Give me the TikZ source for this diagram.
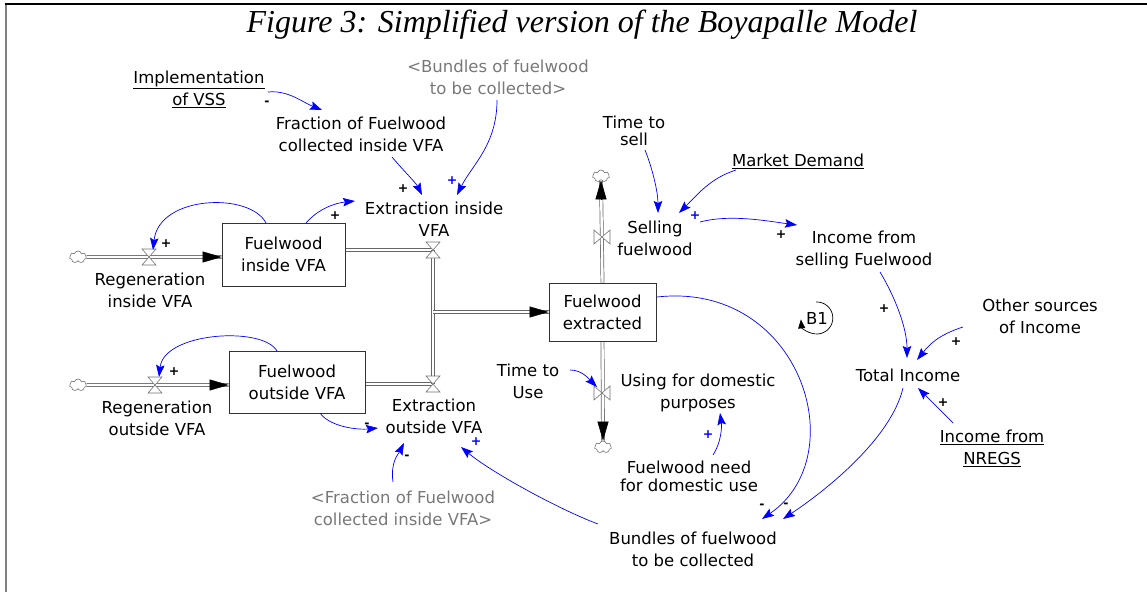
\documentclass[tikz,border=0pt]{standalone}
\usepackage{fontspec}
\setmainfont{DejaVu Sans}
\newfontfamily\titlefont{Liberation Serif}
\usetikzlibrary{arrows.meta,shapes.symbols}
\definecolor{lnk}{RGB}{0,0,255}
\definecolor{gtxt}{RGB}{120,120,120}
\tikzset{
  lbl/.style={align=center, inner sep=1pt, font=\fontsize{16.5}{22}\selectfont},
  glbl/.style={lbl, text=gtxt},
  stock/.style={draw=black!80, line width=0.8pt, fill=white, align=center, inner sep=0pt, font=\fontsize{16.5}{22}\selectfont},
  pipe/.style={draw=black!60, line width=0.7pt, double=white, double distance=2.4pt},
  pipetip/.style={draw=black, line width=0.5pt, -{Triangle[length=19pt,width=11pt]}},
  link/.style={draw=lnk, line width=0.7pt, -{Stealth[length=12pt,width=8.5pt,inset=2pt]}},
  pol/.style={inner sep=0pt, font=\fontsize{12.5}{12}\selectfont\bfseries},
  bpol/.style={pol, text=lnk},
  cloudy/.style={cloud, cloud puffs=7, draw=black!55, fill=white, minimum width=17pt, minimum height=12pt, inner sep=0pt, line width=0.6pt},
  valvestyle/.style={draw=black!55, fill=white, line width=0.6pt},
  hvalve/.pic={\draw[valvestyle] (-7,-8) -- (7,-8) -- (-7,8) -- (7,8) -- cycle;},
  vvalve/.pic={\draw[valvestyle] (-8,-7) -- (-8,7) -- (8,-7) -- (8,7) -- cycle;}
}
\begin{document}
\begin{tikzpicture}[x=1pt,y=-1pt]
\useasboundingbox (0,0) rectangle (1147,592);
% frame
\draw[black!50, line width=2.5pt] (6,3) -- (6,592);
\draw[black, line width=1.5pt] (5,4) -- (1147,4);
% title
\node[font=\titlefont\itshape\fontsize{32}{32}\selectfont, inner sep=0pt] (title) at (582,25) {Figure 3: Simplified version of the Boyapalle Model};

% valves and clouds positions
\coordinate (vri) at (149,257);
\coordinate (vro) at (155,385);
\coordinate (vei) at (433,250);
\coordinate (veo) at (433,384);
\coordinate (vs) at (602,237);
\coordinate (vu) at (602,393);
\node[cloudy] (c1) at (78,257) {};
\node[cloudy] (c2) at (78,385) {};
\node[cloudy] (c3) at (601,176) {};
\node[cloudy] (c4) at (603,447) {};

% stocks (positions only, drawn after pipes)
\path (283.5,254.5) node[stock, minimum width=123pt, minimum height=63pt] (fin) {Fuelwood\\inside VFA};
\path (297,382) node[stock, minimum width=136pt, minimum height=62pt] (fout) {Fuelwood\\outside VFA};
\path (602.5,312) node[stock, minimum width=107pt, minimum height=58pt] (fext) {Fuelwood\\extracted};

% pipes
\coordinate (finin) at (c1 -| fin.west);
\coordinate (foutin) at (c2 -| fout.west);
\coordinate (junc) at (vei |- fext.west);
\draw[pipe] (c1.east) -- (finin);
\draw[pipe] (c2.east) -- (foutin);
\draw[pipe] (fin.east |- vei) -- (vei);
\draw[pipe] (fout.east |- veo) -- (veo);
\draw[pipe] (vei) -- (veo);
\draw[pipe] (junc) -- (fext.west);
\draw[pipe] (fext.north) -- (c3.south);
\draw[pipe] (fext.south) -- (c4.north);
\draw[pipetip] ([xshift=-19pt]finin) -- (finin);
\draw[pipetip] ([xshift=-19pt]foutin) -- (foutin);
\draw[pipetip] ([xshift=-19pt]fext.west) -- (fext.west);
\draw[pipetip] ([yshift=-19pt]c3.south) -- (c3.south);
\draw[pipetip] ([yshift=19pt]c4.north) -- (c4.north);
\pic at (vri) {hvalve};
\pic at (vro) {hvalve};
\pic at (vei) {hvalve};
\pic at (veo) {hvalve};
\pic at (vs) {vvalve};
\pic at (vu) {vvalve};
% redraw stocks on top
\node[stock, minimum width=123pt, minimum height=63pt] at (fin) {Fuelwood\\inside VFA};
\node[stock, minimum width=136pt, minimum height=62pt] at (fout) {Fuelwood\\outside VFA};
\node[stock, minimum width=107pt, minimum height=58pt] at (fext) {Fuelwood\\extracted};

% labels
\node[lbl] (impl) at (199,89) {\underline{Implementation}\\\underline{of VSS}};
\node[lbl] (frac) at (361,134) {Fraction of Fuelwood\\collected inside VFA};
\node[glbl] (bund1) at (498,77.5) {<Bundles of fuelwood\\to be collected>};
\node[lbl] (extin) at (434,219) {Extraction inside\\VFA};
\node[lbl] (regin) at (150,290) {Regeneration\\inside VFA};
\node[lbl] (regout) at (157,418) {Regeneration\\outside VFA};
\node[lbl] (extout) at (434,416) {Extraction\\outside VFA};
\node[glbl] (fracg) at (403,508) {<Fraction of Fuelwood\\collected inside VFA>};
\node[lbl, font=\fontsize{16.5}{17}\selectfont] (tsell) at (634,131) {Time to\\sell};
\node[lbl] (selling) at (655,238.5) {Selling\\fuelwood};
\node[lbl] (market) at (798,161) {\underline{Market Demand}};
\node[lbl] (incsell) at (864,249.5) {Income from\\selling Fuelwood};
\node[lbl] (other) at (1040,316) {Other sources\\of Income};
\node[lbl] (total) at (908,375) {Total Income};
\node[lbl] (nregs) at (992,448) {\underline{Income from}\\\underline{NREGS}};
\node[lbl] (ttuse) at (528,381.5) {Time to\\Use};
\node[lbl] (using) at (698,392.5) {Using for domestic\\purposes};
\node[lbl, font=\fontsize{16.5}{18}\selectfont] (need) at (689,476) {Fuelwood need\\for domestic use};
\node[lbl] (bundles) at (693,549.5) {Bundles of fuelwood\\to be collected};

% loop marker
\node[lbl] (b1) at (817,318) {B1};
\draw[black, line width=0.7pt, -{Triangle[length=9pt,width=7pt]}] ([shift={(-1,-16)}]b1.center) arc[start angle=-93, end angle=175, radius=16];

% links
\draw[link] ([shift={(69,3)}]impl.center) .. controls +(20,-2) and +(-20,-8) .. ([shift={(-39,-24)}]frac.center);
\draw[link] ([shift={(31,23)}]frac.center) .. controls +(10,12) and +(-6,-12) .. ([shift={(-12,-24)}]extin.center);
\draw[link] ([shift={(-1,22.5)}]bund1.center) .. controls +(0,45) and +(15,-30) .. ([shift={(23,-24)}]extin.center);
\draw[link] ([shift={(22.5,-31.5)}]fin.center) .. controls +(12,-14) and +(-20,2) .. ([shift={(-79,-18)}]extin.center);
\draw[link] ([shift={(-17.5,-31.5)}]fin.center) .. controls +(-16,-31) and +(6,-55) .. ([shift={(4,-7)}]vri);
\draw[link] ([shift={(-20,-31)}]fout.center) .. controls +(-14,-25) and +(5,-45) .. ([shift={(4,-8)}]vro);
\draw[link] ([shift={(23,31)}]fout.center) .. controls +(10,14) and +(-20,2) .. ([shift={(-56,12)}]extout.center);
\draw[link] ([shift={(-10,-26)}]fracg.center) .. controls +(-3,-20) and +(-5,10) .. ([shift={(-30,27)}]extout.center);
\draw[link] ([shift={(-95,-25.5)}]bundles.center) .. controls +(-40,-15) and +(30,25) .. ([shift={(27,31)}]extout.center);
\draw[link] ([shift={(11,19)}]tsell.center) .. controls +(8,20) and +(0,-20) .. ([shift={(3,-25.5)}]selling.center);
\draw[link] ([shift={(-62,9)}]market.center) .. controls +(-25,8) and +(20,-20) .. ([shift={(24,-25.5)}]selling.center);
\draw[link] ([shift={(45,-16.5)}]selling.center) .. controls +(30,-8) and +(-30,-4) .. ([shift={(-67,-24.5)}]incsell.center);
\draw[link] ([shift={(16,22.5)}]incsell.center) .. controls +(15,25) and +(0,-30) .. ([shift={(-1,-17)}]total.center);
\draw[link] ([shift={(-77,11)}]other.center) .. controls +(-25,8) and +(12,-15) .. ([shift={(9,-15)}]total.center);
\draw[link] ([shift={(-39,-25)}]nregs.center) -- ([shift={(10,13)}]total.center);
\draw[link] ([shift={(-5,13)}]total.center) .. controls +(-12,50) and +(45,-30) .. ([shift={(90,-30.5)}]bundles.center);
\draw[link] ([shift={(54.5,-15)}]fext.center) .. controls +(143,-16) and +(93,-64) .. ([shift={(69,-30.5)}]bundles.center);
\draw[link] ([shift={(42,-11.5)}]ttuse.center) .. controls +(12,0) and +(-8,-8) .. ([shift={(-5,-6)}]vu);
\draw[link] ([shift={(24,-21)}]need.center) .. controls +(8,-12) and +(2,14) .. ([shift={(22,20.5)}]using.center);

% polarities
\node[pol] (p1) at (267,103) {-};
\node[pol] (p2) at (403,189) {+};
\node[bpol] (p3) at (452,181) {+};
\node[pol] (p4) at (335,216) {+};
\node[pol] (p5) at (166,244) {+};
\node[pol] (p6) at (174,372) {+};
\node[pol] (p7) at (367,425) {-};
\node[pol] (p8) at (407,457) {-};
\node[bpol] (p9) at (476,442) {+};
\node[bpol] (p10) at (695,216) {+};
\node[pol] (p11) at (781,235) {+};
\node[pol] (p12) at (884,309) {+};
\node[pol] (p13) at (956,342) {+};
\node[pol] (p14) at (943,403) {+};
\node[pol] (p15) at (762,506) {-};
\node[pol] (p16) at (786,505) {-};
\node[bpol] (p17) at (708,435) {+};
\end{tikzpicture}
\end{document}
